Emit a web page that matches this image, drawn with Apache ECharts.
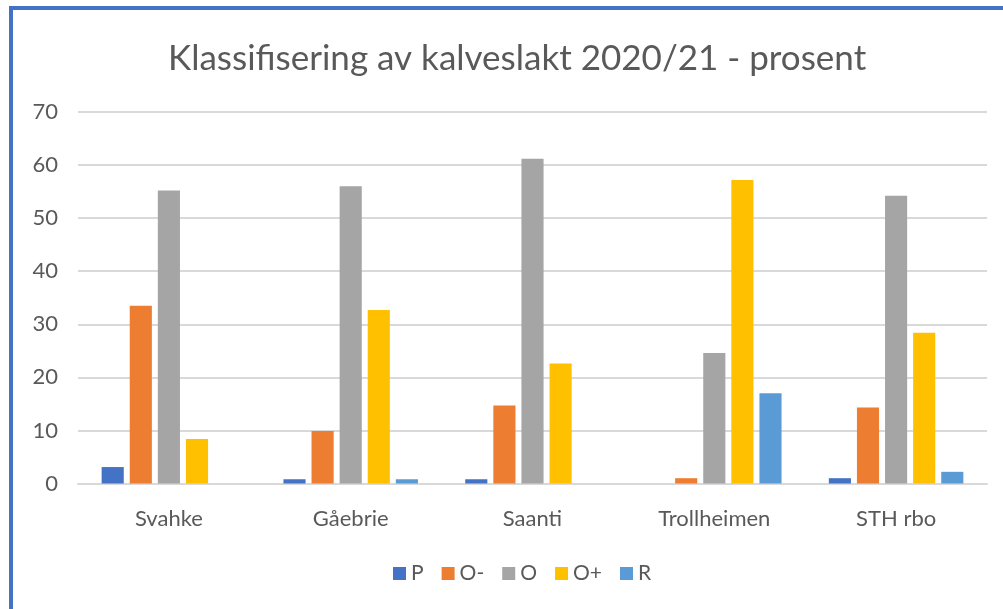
<!DOCTYPE html>
<html>
<head>
<meta charset="utf-8">
<script src="https://cdn.jsdelivr.net/npm/echarts@6/dist/echarts.min.js"></script>
<style>
  html, body { margin: 0; padding: 0; background: #fff; }
  #frame { position: absolute; left: 9px; top: 6px; width: 994px; height: 603px;
           border-left: 4px solid #4472C4; border-top: 4px solid #4472C4; }
  #chart { position: absolute; left: 0; top: 0; width: 1003px; height: 609px; }
</style>
</head>
<body>
<div id="frame"></div>
<div id="chart"></div>
<script>
var categories = ['Svahke', 'Gåebrie', 'Saanti', 'Trollheimen', 'STH rbo'];
var seriesNames = ['P', 'O-', 'O', 'O+', 'R'];
var valP = [3.1, 0.8, 0.8, 0, 1.0];
var valOminus = [33.5, 9.9, 14.7, 1.0, 14.3];
var valO = [55.2, 56.0, 61.2, 24.6, 54.2];
var valOplus = [8.4, 32.7, 22.6, 57.2, 28.4];
var valR = [0, 0.8, 0, 17.0, 2.2];
var colors = ['#4472C4', '#ED7D31', '#A5A5A5', '#FFC000', '#5B9BD5'];

var font = 'Lato, "Open Sans", sans-serif';
var dom = document.getElementById('chart');
var myChart = echarts.init(dom);

var allVals = [valP, valOminus, valO, valOplus, valR];
var series = [];
for (var i = 0; i < seriesNames.length; i++) {
    series.push({
        name: seriesNames[i],
        type: 'bar',
        data: allVals[i],
        barGap: '27%',
        barCategoryGap: '26%',
        itemStyle: { color: colors[i] }
    });
}

var option = {
    animation: false,
    color: colors,
    title: {
        text: 'Klassifisering av kalveslakt 2020/21 - prosent',
        left: 163,
        top: 36,
        textStyle: { fontFamily: font, fontSize: 35, fontWeight: 'normal', color: '#595959' }
    },
    legend: {
        data: seriesNames,
        bottom: 20,
        left: 388,
        itemWidth: 13,
        itemHeight: 13,
        itemGap: 18,
        icon: 'rect',
        textStyle: { fontFamily: font, fontSize: 21, color: '#595959' }
    },
    grid: { left: 78, right: 16, top: 112, bottom: 125.5, containLabel: false },
    xAxis: {
        type: 'category',
        data: categories,
        axisTick: { show: false },
        axisLine: { lineStyle: { color: '#D9D9D9', width: 2 } },
        axisLabel: { fontFamily: font, fontSize: 22, color: '#595959', margin: 24 }
    },
    yAxis: {
        type: 'value',
        min: 0,
        max: 70,
        interval: 10,
        axisLine: { show: false },
        axisTick: { show: false },
        axisLabel: { fontFamily: font, fontSize: 22, color: '#595959', margin: 20 },
        splitLine: { lineStyle: { color: '#D9D9D9', width: 2 } }
    },
    series: series
};
myChart.setOption(option);
</script>
</body>
</html>
